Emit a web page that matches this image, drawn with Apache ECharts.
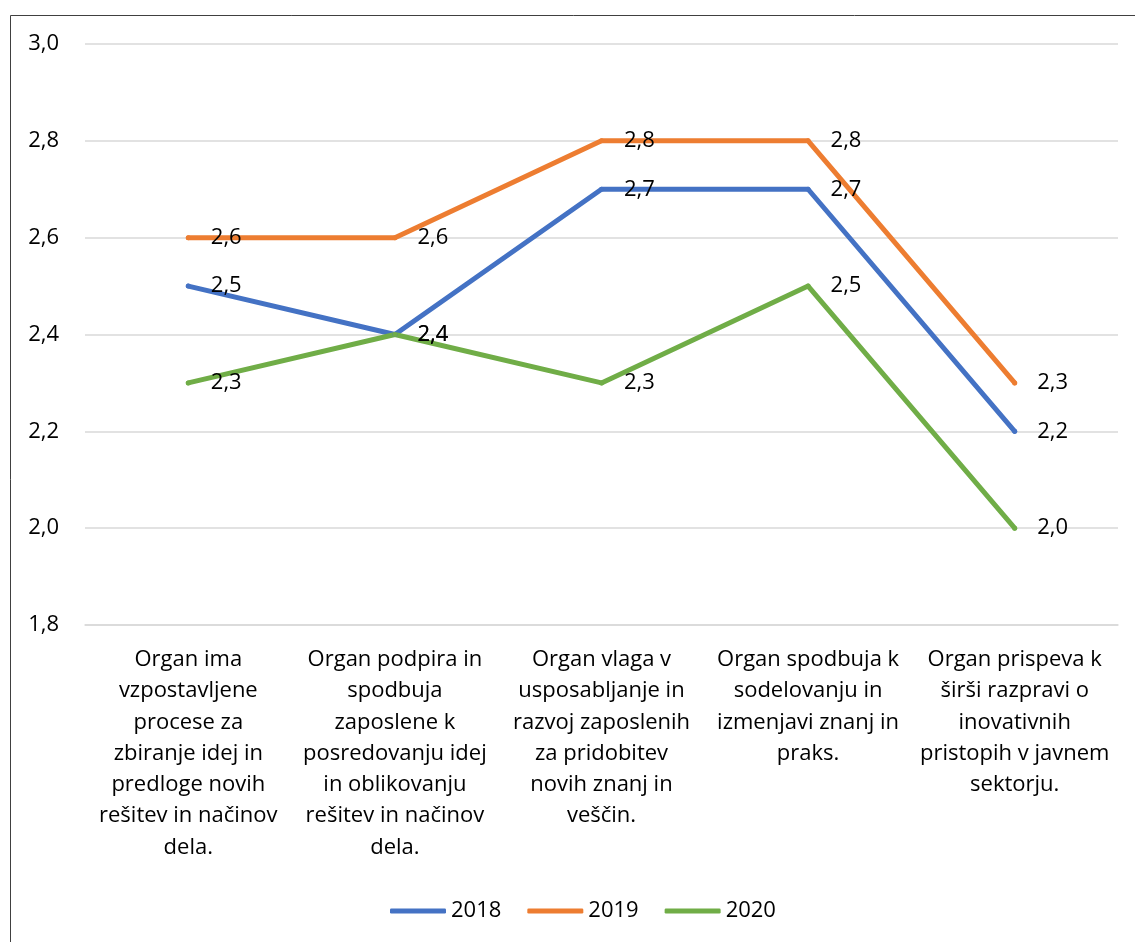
<!DOCTYPE html>
<html><head><meta charset="utf-8">
<script src="https://cdn.jsdelivr.net/npm/echarts@6/dist/echarts.min.js"></script>
<style>html,body{margin:0;padding:0;background:#fff}#c{width:1135px;height:942px}</style>
</head><body><div id="c"></div>
<script>
const categories = [
  "Organ ima\nvzpostavljene\nprocese za\nzbiranje idej in\npredloge novih\nrešitev in načinov\ndela.",
  "Organ podpira in\nspodbuja\nzaposlene k\nposredovanju idej\nin oblikovanju\nrešitev in načinov\ndela.",
  "Organ vlaga v\nusposabljanje in\nrazvoj zaposlenih\nza pridobitev\nnovih znanj in\nveščin.",
  "Organ spodbuja k\nsodelovanju in\nizmenjavi znanj in\npraks.",
  "Organ prispeva k\nširši razpravi o\ninovativnih\npristopih v javnem\nsektorju."
];
const seriesNames = ["2018", "2019", "2020"];
const values2018 = [2.5, 2.4, 2.7, 2.7, 2.2];
const values2019 = [2.6, 2.6, 2.8, 2.8, 2.3];
const values2020 = [2.3, 2.4, 2.3, 2.5, 2.0];
const colors = ["#4472C4", "#ED7D31", "#70AD47"];
const font = "Open Sans, Noto Sans, sans-serif";
const fmt = v => v.toFixed(1).replace('.', ',');

const chart = echarts.init(document.getElementById('c'));
const mk = (name, data, color) => ({
  name, type: 'line', data, color,
  symbol: 'circle', symbolSize: 5, showSymbol: true,
  itemStyle: { color, borderWidth: 0 },
  lineStyle: { width: 5, color, cap: 'round', join: 'round' },
  label: { show: true, position: 'right', distance: 20, fontSize: 22, color: '#000', fontFamily: font,
    formatter: p => fmt(p.value) },
  emphasis: { disabled: true }, animation: false
});
chart.setOption({
  animation: false,
  graphic: [{ type: 'rect', left: 8, top: 13, shape: { width: 1200, height: 1000 }, style: { fill: 'none', stroke: '#404040', lineWidth: 1 }, silent: true }],
  grid: { left: 85, right: 17, top: 44, bottom: 317, containLabel: false },
  legend: {
    bottom: 15, left: 385, itemWidth: 56, itemHeight: 5, itemGap: 26, icon: 'roundRect',
    textStyle: { fontSize: 22, color: '#000', fontFamily: font },
    data: seriesNames
  },
  xAxis: {
    type: 'category', data: categories, boundaryGap: true,
    axisLine: { lineStyle: { color: '#d9d9d9', width: 1.5 } }, axisTick: { show: false },
    axisLabel: { interval: 0, fontSize: 22, lineHeight: 31.3, color: '#000', fontFamily: font, margin: 19, align: 'center' }
  },
  yAxis: {
    type: 'value', min: 1.8, max: 3.0, interval: 0.2,
    axisLine: { show: false }, axisTick: { show: false },
    splitLine: { lineStyle: { color: '#d9d9d9', width: 1.5 } },
    axisLabel: { fontSize: 22, color: '#000', fontFamily: font, margin: 26, formatter: v => fmt(v) }
  },
  series: [mk(seriesNames[0], values2018, colors[0]), mk(seriesNames[1], values2019, colors[1]), mk(seriesNames[2], values2020, colors[2])]
});
</script></body></html>
